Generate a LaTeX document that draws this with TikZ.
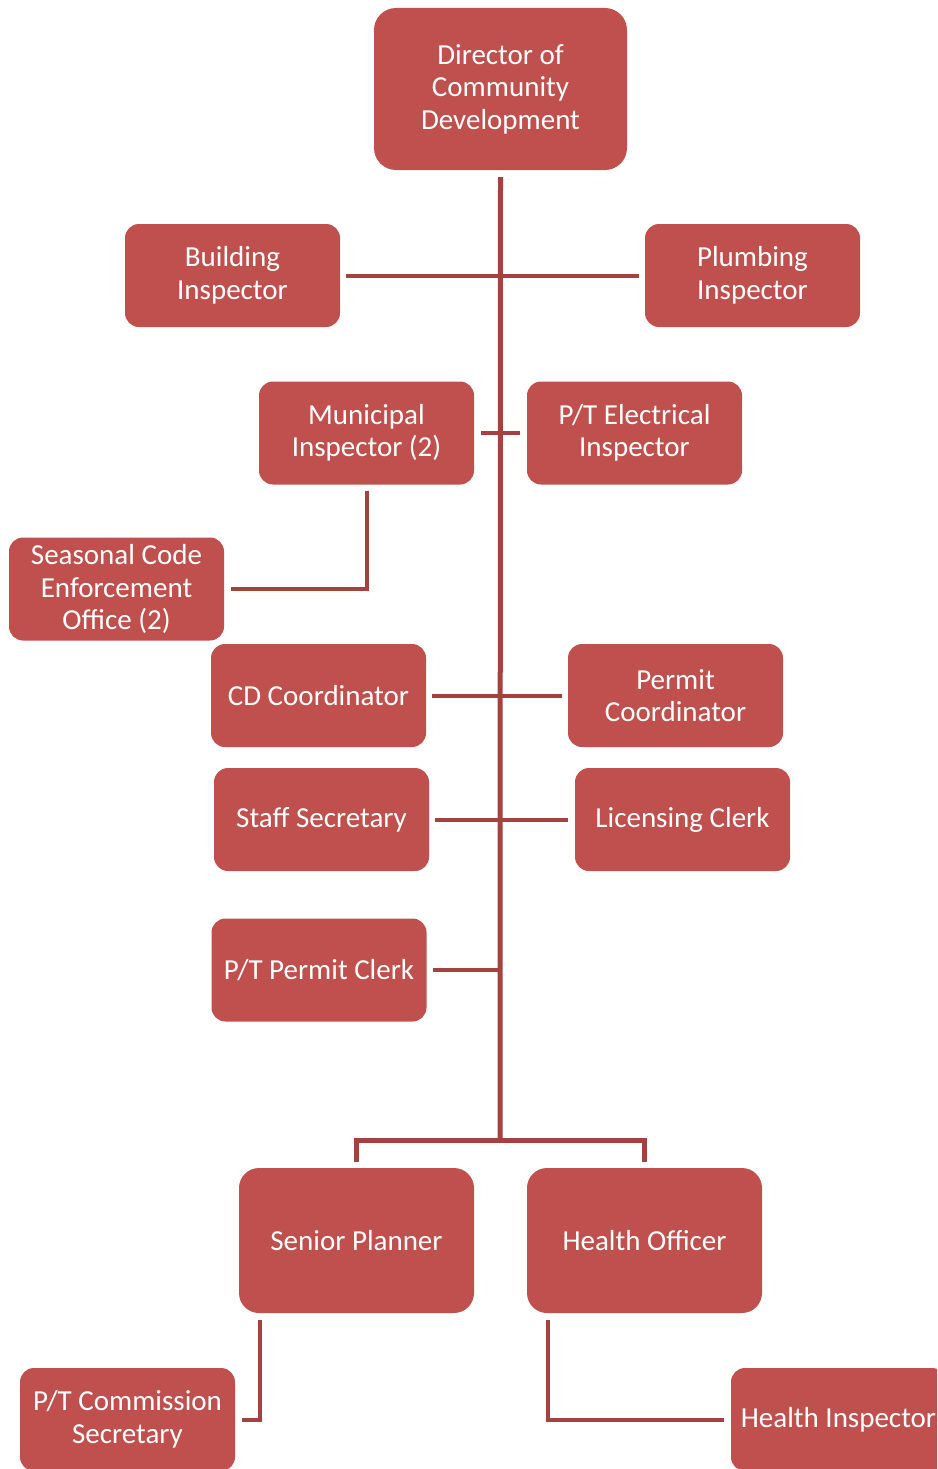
\documentclass[tikz,border=0pt]{standalone}
\usepackage{fontspec}
\setmainfont{Carlito}
\definecolor{boxred}{HTML}{C0504D}
\definecolor{linkred}{HTML}{A4423F}
\begin{document}
\begin{tikzpicture}[x=1pt,y=-1pt,
  orgbox/.style={fill=boxred, text=white, rounded corners=14pt, inner sep=0pt,
    minimum width=215pt, minimum height=103pt, align=center,
    font=\fontsize{29}{32.5}\selectfont},
  bigbox/.style={orgbox, minimum width=235pt, minimum height=145pt, rounded corners=20pt},
  link/.style={draw=linkred, line width=4pt},
  trunk/.style={draw=linkred, line width=5pt}]
\useasboundingbox (0,0) rectangle (937,1469);
\begin{scope}
\clip (0,0) rectangle (937,1469);
% boxes
\node[orgbox, minimum width=253pt, minimum height=162pt, rounded corners=22pt] (dir) at (500.5,89) {Director of\\Community\\Development};
\node[orgbox] (bld) at (232.5,275.5) {Building\\Inspector};
\node[orgbox] (plm) at (752.5,275.5) {Plumbing\\Inspector};
\node[orgbox] (mun) at (366.5,433) {Municipal\\Inspector (2)};
\node[orgbox] (ele) at (634.5,433) {P/T Electrical\\Inspector};
\node[orgbox] (sea) at (116.5,589) {Seasonal Code\\Enforcement\\Office (2)};
\node[orgbox] (cdc) at (318.5,695.5) {CD Coordinator};
\node[orgbox] (pmc) at (675.5,695.5) {Permit\\Coordinator};
\node[orgbox] (sts) at (321.5,819.5) {Staff Secretary};
\node[orgbox] (lic) at (682.5,819.5) {Licensing Clerk};
\node[orgbox] (ptp) at (319,970) {P/T Permit Clerk};
\node[bigbox] (snr) at (356.5,1240.5) {Senior Planner};
\node[bigbox] (hlo) at (644.5,1240.5) {Health Officer};
\node[orgbox] (com) at (127.5,1419.5) {P/T Commission\\Secretary};
\node[orgbox] (hin) at (838.5,1419.5) {Health Inspector};
% connectors
\coordinate (j) at (500,1140);
\draw[trunk] ([yshift=-7pt]dir.south) -- (j);
\draw[link] ([xshift=6pt]bld.east) -- ([xshift=-6pt]plm.west);
\draw[link] ([xshift=7pt]mun.east) -- ([xshift=-7pt]ele.west);
\draw[link] ([yshift=-6pt]mun.south) |- ([xshift=7pt]sea.east);
\draw[link] ([xshift=6pt]cdc.east) -- ([xshift=-6pt]pmc.west);
\draw[link] ([xshift=6pt]sts.east) -- ([xshift=-7pt]lic.west);
\draw[link] ([xshift=6pt]ptp.east) -- (ptp.east -| j);
\draw[trunk] ([yshift=6pt]snr.north) |- (j) -| ([yshift=6pt]hlo.north);
\draw[link] ([xshift=21pt,yshift=-7pt]snr.south west) |- ([xshift=7pt]com.east);
\draw[link] ([xshift=21pt,yshift=-7pt]hlo.south west) |- ([xshift=-7pt]hin.west);
\end{scope}
\end{tikzpicture}
\end{document}
